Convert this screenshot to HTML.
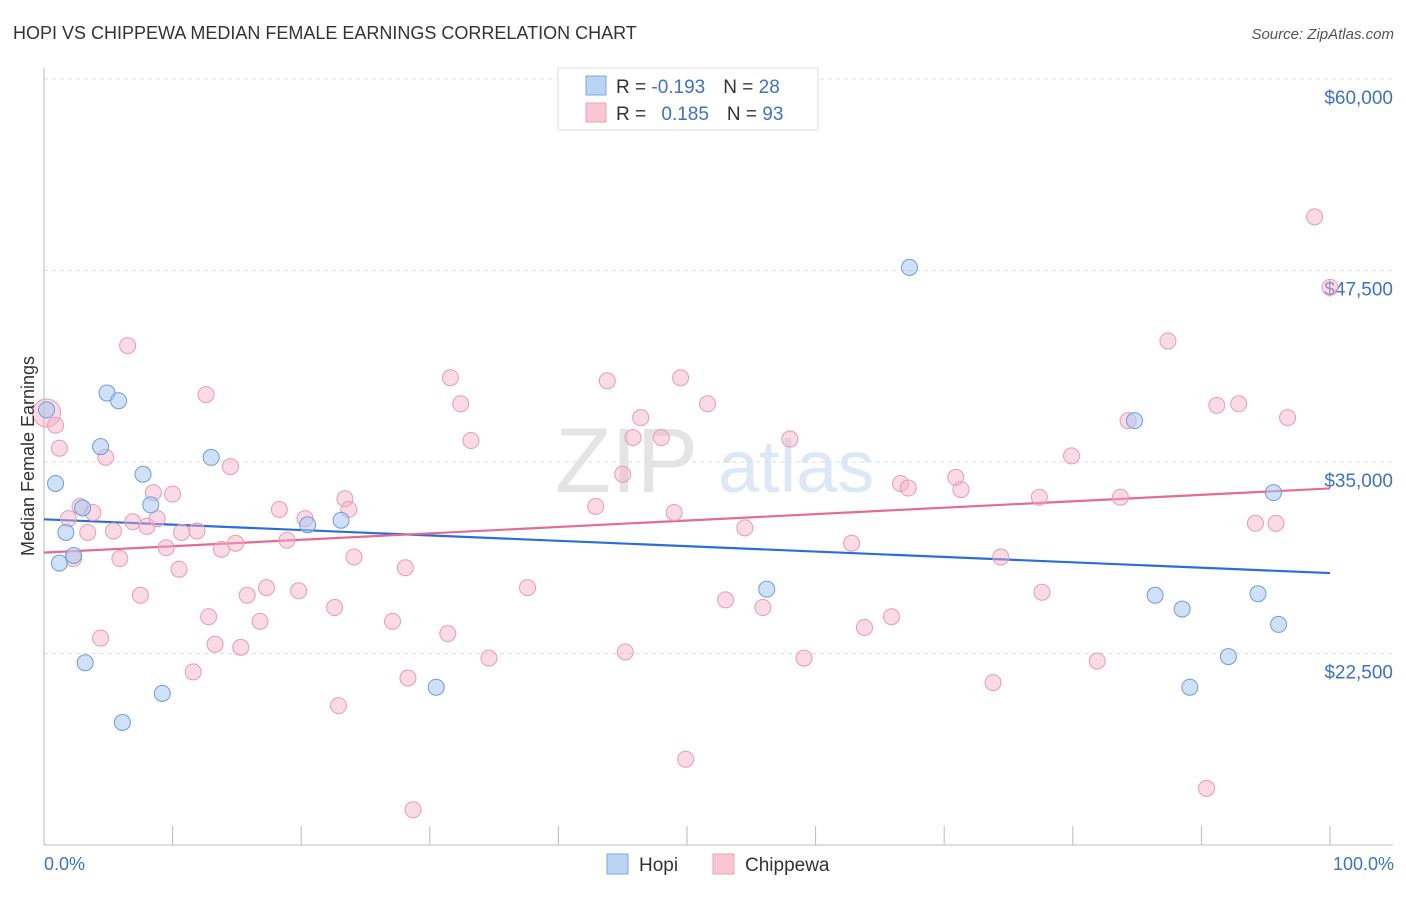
<!DOCTYPE html>
<html><head><meta charset="utf-8"><style>
body{margin:0;background:#fff;font-family:"Liberation Sans",sans-serif;}
svg text{font-family:"Liberation Sans",sans-serif;}
</style></head><body>
<svg id="chart" width="1406" height="892" xmlns="http://www.w3.org/2000/svg">
<text x="13" y="39" font-size="18" fill="#333">HOPI VS CHIPPEWA MEDIAN FEMALE EARNINGS CORRELATION CHART</text>
<text x="1394" y="39" font-size="15" fill="#555" text-anchor="end" font-style="italic">Source: ZipAtlas.com</text>
<g><text x="555" y="492" font-size="92" fill="#e4e4e4" font-family="Liberation Serif">ZIP</text><text x="718" y="492" font-size="74" fill="#dce8f5">atlas</text></g>
<g id="grid"></g>
<g id="axes"></g>
<g id="trends"></g>
<g id="points"></g>
<text transform="translate(34,456) rotate(-90)" font-size="18" fill="#333" text-anchor="middle">Median Female Earnings</text>
<text x="44" y="870" font-size="18" fill="#3b73c9">0.0%</text>
<text x="1394" y="870" font-size="18" fill="#3b73c9" text-anchor="end">100.0%</text>
<g>
<rect x="558" y="68" width="260" height="62" fill="#fff" stroke="#ddd"/>
<rect x="586" y="76" width="20" height="19" fill="#b9d3f3" stroke="#7aaae0"/>
<rect x="586" y="103" width="20" height="19" fill="#f9c6d5" stroke="#eca0b7"/>
<text x="616" y="93" font-size="19" fill="#333">R = <tspan fill="#3b73c9">-0.193</tspan><tspan dx="18">N = </tspan><tspan fill="#3b73c9">28</tspan></text>
<text x="616" y="120" font-size="19" fill="#333">R = <tspan fill="#3b73c9" dx="10">0.185</tspan><tspan dx="18">N = </tspan><tspan fill="#3b73c9">93</tspan></text>
</g>
<g>
<rect x="607" y="854" width="21" height="20" fill="#b9d3f3" stroke="#7aaae0"/>
<text x="639" y="871" font-size="19" fill="#333">Hopi</text>
<rect x="713" y="854" width="21" height="20" fill="#f9c6d5" stroke="#eca0b7"/>
<text x="745" y="871" font-size="19" fill="#333">Chippewa</text>
</g>
</svg>
<script>
const yTicks=[22500,35000,47500,60000];
const yTickLabels=["$22,500","$35,000","$47,500","$60,000"];
const hopiX=[0.2,0.9,1.2,1.7,2.3,3.0,3.2,4.4,4.9,5.8,6.1,7.7,8.3,9.2,13.0,20.5,23.1,30.5,56.2,67.3,84.8,86.4,88.5,89.1,92.1,94.4,95.6,96.0];
const hopiY=[38.4,33.6,28.4,30.4,28.9,32.0,21.9,36.0,39.5,39.0,18.0,34.2,32.2,19.9,35.3,30.9,31.2,20.3,26.7,47.7,37.7,26.3,25.4,20.3,22.3,26.4,33.0,24.4];
const chipX=[0.2,0.9,1.2,1.9,2.3,2.8,3.4,3.8,4.4,4.8,5.4,5.9,6.5,6.9,7.5,8.0,8.5,8.8,9.5,10.0,10.5,10.7,11.6,11.9,12.6,12.8,13.3,13.8,14.5,14.9,15.3,15.8,16.8,17.3,18.3,18.9,19.8,20.3,22.6,22.9,23.4,23.7,24.1,27.1,28.1,28.3,28.7,31.4,31.6,32.4,33.2,34.6,37.6,42.9,43.8,45.0,45.2,45.8,46.4,48.0,49.0,49.5,49.9,51.6,53.0,54.5,55.9,58.0,59.1,62.8,63.8,65.9,66.6,67.2,70.9,71.3,73.8,74.4,77.4,77.6,79.9,81.9,83.7,84.3,87.4,90.4,91.2,92.9,94.2,95.8,96.7,98.8,100.0];
const chipY=[38.2,37.4,35.9,31.3,28.7,32.1,30.4,31.7,23.5,35.3,30.5,28.7,42.6,31.1,26.3,30.8,33.0,31.3,29.4,32.9,28.0,30.4,21.3,30.5,39.4,24.9,23.1,29.3,34.7,29.7,22.9,26.3,24.6,26.8,31.9,29.9,26.6,31.3,25.5,19.1,32.6,31.9,28.8,24.6,28.1,20.9,12.3,23.8,40.5,38.8,36.4,22.2,26.8,32.1,40.3,34.2,22.6,36.6,37.9,36.6,31.7,40.5,15.6,38.8,26.0,30.7,25.5,36.5,22.2,29.7,24.2,24.9,33.6,33.3,34.0,33.2,20.6,28.8,32.7,26.5,35.4,22.0,32.7,37.7,42.9,13.7,38.7,38.8,31.0,31.0,37.9,51.0,46.4];
const NS="http://www.w3.org/2000/svg";
const sx=p=>44+p*12.86;
const sy=v=>79+(60-v)*1000/65.27/1000*1000/1000*1; // v in thousands
function syk(v){return 79+(60-v)/12.5*191.5;}
function mk(t,a,parent){const e=document.createElementNS(NS,t);for(const k in a)e.setAttribute(k,a[k]);parent.appendChild(e);return e;}
const grid=document.getElementById('grid'),axes=document.getElementById('axes');
yTicks.forEach((t,i)=>{const y=syk(t/1000);
 const l=mk('line',{x1:44,x2:1393,y1:y,y2:y,stroke:'#ddd','stroke-dasharray':'4,4'},grid);
 
 const tx=mk('text',{x:1393,y:y+25,'font-size':19,fill:'#3b73c9','text-anchor':'end'},axes);
 tx.textContent=yTickLabels[i];
 
});
mk('line',{x1:44,x2:44,y1:68,y2:845,stroke:'#bbb'},axes);
mk('line',{x1:44,x2:1393,y1:845,y2:845,stroke:'#bbb'},axes);
for(let i=1;i<=10;i++){const x=sx(i*10);const t=mk('line',{x1:x,x2:x,y1:826,y2:845,stroke:'#bbb'},axes);
 }
function reg(X,Y){const n=X.length;let mx=0,my=0;X.forEach((x,i)=>{mx+=x;my+=Y[i]});mx/=n;my/=n;let a=0,b=0;X.forEach((x,i)=>{a+=(x-mx)*(Y[i]-my);b+=(x-mx)*(x-mx)});const s=a/b;return [my-s*mx,s];}
const tr=document.getElementById('trends');
[[hopiX,hopiY,'#2b6fd6','hopi-trend-line'],[chipX,chipY,'#e46b95','chippewa-trend-line']].forEach(([X,Y,c,n])=>{
 const [b0,b1]=reg(X,Y);
 const l=mk('line',{x1:sx(0),y1:syk(b0),x2:sx(100),y2:syk(b0+b1*100),stroke:c,'stroke-width':2.2},tr);
 
});
const pts=document.getElementById('points');
chipX.forEach((x,i)=>{const c=mk('circle',{cx:sx(x),cy:syk(chipY[i]),r:i===0?14:8,fill:'rgba(245,175,198,0.45)',stroke:'#eb9ab4','stroke-width':1},pts);
 });
hopiX.forEach((x,i)=>{const c=mk('circle',{cx:sx(x),cy:syk(hopiY[i]),r:8,fill:'rgba(170,200,240,0.55)',stroke:'#6a9edc','stroke-width':1},pts);
 });
</script>
</body></html>
